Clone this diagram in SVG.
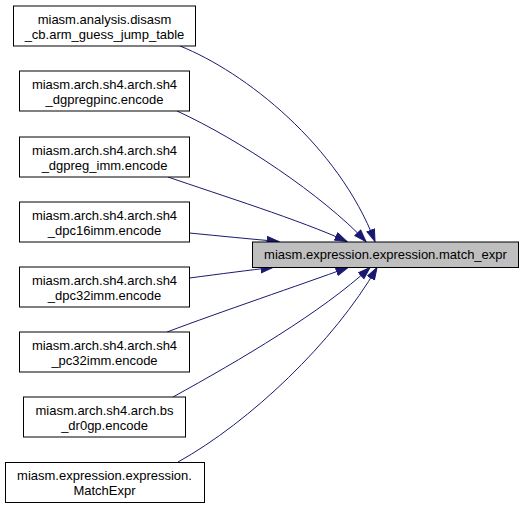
<svg xmlns="http://www.w3.org/2000/svg" width="524" height="509" viewBox="0 0 524 509">
<style>
  .node rect { fill: #ffffff; stroke: #000000; stroke-width: 1; }
  .node.focus rect { fill: #bfbfbf; }
  text { font-family: "Liberation Sans", Arial, sans-serif; font-size: 13px; fill: #000000; text-anchor: middle; }
  .edge { fill: none; stroke: #191970; stroke-width: 1; marker-end: url(#ah); }
</style>
<defs>
  <marker id="ah" markerUnits="userSpaceOnUse" markerWidth="14" markerHeight="10" refX="12.5" refY="4.5" orient="auto">
    <path d="M0.5,0.5 L12.5,4.5 L0.5,8.5 z" fill="#191970" stroke="#191970" stroke-width="1"/>
  </marker>
</defs>
<rect x="0" y="0" width="524" height="509" fill="#ffffff"/>
<g id="connectors">
  <path class="edge" d="M180,46 C245,72 338,145 375,241.5"/>
  <path class="edge" d="M177,111 C240,140 322,195 366,241.5"/>
  <path class="edge" d="M168,177 C220,195 300,220 347,241.5"/>
  <path class="edge" d="M189.5,233 C220,236 250,239 279,241.5"/>
  <path class="edge" d="M189.5,278 C220,274 250,270 273,267.5"/>
  <path class="edge" d="M167,332 C220,312 300,285 348,267.5"/>
  <path class="edge" d="M173,397 C240,360 322,312 370,267.5"/>
  <path class="edge" d="M178,462 C250,422 334,342 377,267.5"/>
</g>
<g id="node_main" class="node focus">
  <rect x="252.5" y="242" width="266" height="25.5"/>
  <text x="385.5" y="259">miasm.expression.expression.match_expr</text>
</g>
<g id="node1" class="node">
  <rect x="13.5" y="6" width="182" height="40"/>
  <text x="104.5" y="23.5">miasm.analysis.disasm</text>
  <text x="104.5" y="38.5">_cb.arm_guess_jump_table</text>
</g>
<g id="node2" class="node">
  <rect x="19.5" y="71" width="170" height="40"/>
  <text x="104.5" y="88.5">miasm.arch.sh4.arch.sh4</text>
  <text x="104.5" y="103.5">_dgpregpinc.encode</text>
</g>
<g id="node3" class="node">
  <rect x="19.5" y="137" width="170" height="40"/>
  <text x="104.5" y="154.5">miasm.arch.sh4.arch.sh4</text>
  <text x="104.5" y="169.5">_dgpreg_imm.encode</text>
</g>
<g id="node4" class="node">
  <rect x="19.5" y="202" width="170" height="40"/>
  <text x="104.5" y="219.5">miasm.arch.sh4.arch.sh4</text>
  <text x="104.5" y="234.5">_dpc16imm.encode</text>
</g>
<g id="node5" class="node">
  <rect x="19.5" y="267" width="170" height="40"/>
  <text x="104.5" y="284.5">miasm.arch.sh4.arch.sh4</text>
  <text x="104.5" y="299.5">_dpc32imm.encode</text>
</g>
<g id="node6" class="node">
  <rect x="19.5" y="332" width="170" height="40"/>
  <text x="104.5" y="349.5">miasm.arch.sh4.arch.sh4</text>
  <text x="104.5" y="364.5">_pc32imm.encode</text>
</g>
<g id="node7" class="node">
  <rect x="23.5" y="397" width="162" height="40"/>
  <text x="104.5" y="414.5">miasm.arch.sh4.arch.bs</text>
  <text x="104.5" y="429.5">_dr0gp.encode</text>
</g>
<g id="node8" class="node">
  <rect x="5.5" y="462.5" width="199" height="40"/>
  <text x="104.5" y="480">miasm.expression.expression.</text>
  <text x="104.5" y="495">MatchExpr</text>
</g>
</svg>
